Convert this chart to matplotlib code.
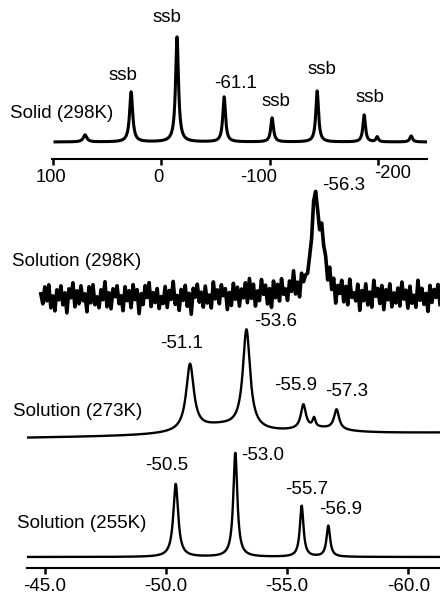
import numpy as np
import matplotlib
matplotlib.use("Agg")
import matplotlib.pyplot as plt
from matplotlib.transforms import ScaledTranslation

plt.rcParams['font.family'] = ['Liberation Sans', 'DejaVu Sans']
plt.rcParams['axes.unicode_minus'] = False

# ---------------- data ----------------
# Solid (298K) spectrum: peak positions (ppm), heights, widths (FWHM ppm)
solid_pos = [70.0, 27.6, -14.7, -58.1, -102.3, -143.8, -187.1, -199.1, -230.4]
solid_height = [7, 50, 105, 45, 24, 51, 27, 5, 6]
solid_width = [4.0, 3.4, 3.2, 3.0, 3.0, 3.0, 2.8, 2.5, 3.0]
solid_ticks = [100, 0, -100, -200]
solid_ticklabels = ['100', '0', '-100', '-200']

# Solution (298K)
sol298_pos = [-56.15, -56.45, -55.5]
sol298_height = [95, 45, 6]
sol298_width = [0.3, 0.3, 3.0]
sol298_noise = [
    3, -7, 10, -4, 12, -11, 1, -14, 7, -3, 11, -8, 4, -16, 8, -1, 14, -10, 6, -7,
    11, -4, 3, -15, 10, -6, 12, -8, 0, -11, 7, -3, 15, -10, 4, -12, 8, 0, 11, -7,
    1, -14, 10, -4, 6, -11, 12, -3, 7, -17, 3, -8, 11, -1, 14, -10, 4, -6, 8, -12,
    0, -7, 10, -11, 6, -3, 15, -8, 1, -14, 7, -4, 11, -10, 3, -18, 8, -1, 12, -6,
    4, -11, 10, -7, 1, -12, 14, -3, 6, -8, 11, 0, 7, -14, 3, -10, 12, -4, 8, -11,
    6, -3, 12, -8, 16, -4, 10, -12, 3, -7, 14, -1, 8, -11, 4, -15, 11, -6, 7, -10,
    12, -4, 1, -11, 8, -3, 17, -7, 4, -12, 10, -1, 2, -3, 2, -2, 1, -2, 3, -3,
    4, -6, 3, -8, 12, -6, 8, -15, 4, -3, 11, -10, 6, -12, 14, -4, 1, -7, 10, -16,
    4, -6, 11, -10, 3, -12, 15, -1, 7, -8, 10, -14, 6, -4, 12, -11, 3, -7, 8, -10,
    14, -3, 6, -12, 10, -7, 1, -11, 16, -4, 8, -8, 3, -15, 11, -6, 7, -1, 12, -8,
]

# Solution (273K)
sol273_pos = [-50.99, -53.32, -55.67, -56.11, -57.04, -52.2, -56.3]
sol273_height = [66, 99, 24, 9, 20, 9, 5]
sol273_width = [0.38, 0.36, 0.25, 0.14, 0.25, 3.0, 2.5]

# Solution (255K)
sol255_pos = [-50.40, -52.86, -55.60, -56.70]
sol255_height = [73, 104, 51, 31]
sol255_width = [0.24, 0.2, 0.18, 0.18]

bottom_ticks = [-45, -50, -55, -60]
bottom_ticklabels = ['-45.0', '-50.0', '-55.0', '-60.0']


def lorentz(x, pos, hgt, wid):
    y = np.zeros_like(x)
    for p, h, w in zip(pos, hgt, wid):
        y += h / (1.0 + ((x - p) / (w / 2.0)) ** 2)
    return y


W, H = 440, 597
fig = plt.figure(figsize=(W / 100, H / 100), dpi=100)

def px_axes(left, right, top, bottom):
    a = fig.add_axes([left / W, 1 - bottom / H, (right - left) / W, (bottom - top) / H])
    a.patch.set_visible(False)
    return a

LW = 1.7
FS = 13.5

# ---------------- top panel ----------------
ax1 = px_axes(52, 427, 5, 159)
ax1.set_xlim(100.5, -245)
ax1.set_ylim(0, 154)
xs = np.linspace(97.7, -245, 4000)
ax1.plot(xs, 17 + lorentz(xs, solid_pos, solid_height, solid_width),
         color='black', lw=2.2, solid_joinstyle='round')
for s in ['top', 'left', 'right']:
    ax1.spines[s].set_visible(False)
ax1.spines['bottom'].set_linewidth(1.5)
ax1.set_yticks([])
ax1.set_xticks(solid_ticks)
ax1.set_xticklabels(solid_ticklabels, fontsize=13.2)
ax1.tick_params(axis='x', direction='out', length=4, width=1.8, pad=3.5)
# small offsets of the top tick labels as in the scan (px)
shifts = [(-2, 0), (-3, 0), (-11, 0), (14, 4)]
for lab, (dx, dy) in zip(ax1.get_xticklabels(), shifts):
    lab.set_transform(lab.get_transform() + ScaledTranslation(dx / 100, dy / 100, fig.dpi_scale_trans))

top_labels = [(35.4, 84, 'ssb'), (-5.5, 142, 'ssb'), (-68.2, 76, '-61.1'),
              (-106.0, 57, 'ssb'), (-148.0, 90, 'ssb'), (-192.6, 61, 'ssb')]
for xv, yv, s in top_labels:
    ax1.text(xv, yv, s, ha='center', va='center', fontsize=FS, clip_on=False)

# ---------------- bottom panel ----------------
ax2 = px_axes(27, 440, 185, 568)
ax2.set_xlim(-44.26, -61.31)
ax2.set_ylim(0, 383)

xb = np.linspace(-44.3, -61.31, 4000)
# 255K
ax2.plot(xb, 11 + lorentz(xb, sol255_pos, sol255_height, sol255_width),
         color='black', lw=LW)
# 273K (slightly sloping baseline)
base273 = 130 + 5 * (xb - (-44.3)) / (-61.31 - (-44.3))
ax2.plot(xb, base273 + lorentz(xb, sol273_pos, sol273_height, sol273_width),
         color='black', lw=LW)
# 298K (noisy)
xn = np.linspace(-44.83, -61.31, len(sol298_noise))
ax2.plot(xn, 271 + np.array(sol298_noise) + lorentz(xn, sol298_pos, sol298_height, sol298_width),
         color='black', lw=2.6)

for s in ['top', 'left', 'right']:
    ax2.spines[s].set_visible(False)
ax2.spines['bottom'].set_linewidth(1.5)
ax2.set_yticks([])
ax2.set_xticks(bottom_ticks)
ax2.set_xticklabels(bottom_ticklabels, fontsize=13.5)
ax2.tick_params(axis='x', direction='out', length=4, width=1.8, pad=3)

bottom_labels = [(-57.35, 383, '-56.3'), (-54.54, 246, '-53.6'), (-50.66, 224, '-51.1'),
                 (-55.36, 182, '-55.9'), (-57.47, 176, '-57.3'),
                 (-50.04, 103, '-50.5'), (-54.0, 113, '-53.0'),
                 (-55.82, 79, '-55.7'), (-57.22, 59, '-56.9')]
for xv, yv, s in bottom_labels:
    ax2.text(xv, yv, s, ha='center', va='center', fontsize=FS, clip_on=False)

# row labels
row_labels = [(10, 113, 'Solid (298K)'), (12, 261, 'Solution (298K)'),
              (13, 412, 'Solution (273K)'), (17, 523, 'Solution (255K)')]
for xp, yp, s in row_labels:
    fig.text(xp / W, 1 - yp / H, s, ha='left', va='center', fontsize=FS)

fig.savefig('out.png', dpi=100)
